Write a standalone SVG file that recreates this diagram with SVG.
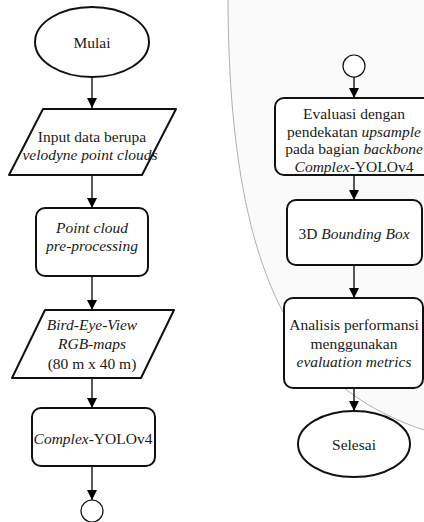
<svg xmlns="http://www.w3.org/2000/svg" width="424" height="522" viewBox="0 0 424 522">
<style>
.t{font-size:15.5px;fill:#1a1a1a;text-anchor:middle;dominant-baseline:central}
.i{font-style:italic}
.b{fill:#fff;stroke:#111;stroke-width:2;stroke-linejoin:round}
.c{fill:#fff;stroke:#111;stroke-width:1.2}
.e{stroke:#000;stroke-width:1.3;fill:none;marker-end:url(#ah)}
</style>
<defs>
<marker id="ah" viewBox="0 0 10 10" refX="10" refY="5" markerWidth="10" markerHeight="10" markerUnits="userSpaceOnUse" orient="auto">
<path d="M0,0 L10,5 L0,10 Z" fill="#000"/>
</marker>
</defs>
<rect width="424" height="522" fill="#fff"/>
<path d="M228,0 C229,300 310,392 424,430 L424,0 Z" fill="#fafafa" stroke="none"/>
<path d="M228,0 C229,300 310,392 424,430" fill="none" stroke="#9a9a9a" stroke-width="0.8"/>

<g id="edges">
<line class="e" x1="92" y1="77" x2="92" y2="108"/>
<line class="e" x1="92" y1="175" x2="92" y2="208"/>
<line class="e" x1="92" y1="276" x2="92" y2="310"/>
<line class="e" x1="92" y1="378" x2="92" y2="408"/>
<line class="e" x1="92" y1="466" x2="92" y2="500"/>
<line class="e" x1="354" y1="77" x2="354" y2="98"/>
<line class="e" x1="354" y1="175" x2="354" y2="200"/>
<line class="e" x1="354" y1="265" x2="354" y2="298"/>
<line class="e" x1="354" y1="388" x2="354" y2="411"/>
</g>

<g font-family="Liberation Serif, Times New Roman, serif">
<g id="mulai">
<ellipse class="b" cx="92" cy="42" rx="57" ry="35"/>
<text class="t" x="92" y="42">Mulai</text>
</g>
<g id="input">
<polygon class="b" points="43,109 176,109 142,175 9,175"/>
<text class="t" x="92" y="136">Input data berupa</text>
<text class="t i" x="90" y="154">velodyne point clouds</text>
</g>
<g id="preprocess">
<rect class="b" x="36" y="208" width="112" height="68" rx="9"/>
<text class="t i" x="92" y="227">Point cloud</text>
<text class="t i" x="92" y="245">pre-processing</text>
</g>
<g id="bev">
<polygon class="b" points="45,310 174,310 141,378 12,378"/>
<text class="t i" x="92" y="324">Bird-Eye-View</text>
<text class="t i" x="92" y="343">RGB-maps</text>
<text class="t" x="92" y="363">(80 m x 40 m)</text>
</g>
<g id="yolo">
<rect class="b" x="32" y="408" width="123" height="58" rx="9"/>
<text class="t" x="93" y="438"><tspan class="i">Complex</tspan>-YOLOv4</text>
</g>
<g id="conn1">
<circle class="c" cx="92" cy="511" r="11"/>
</g>

<g id="conn2">
<circle class="c" cx="354" cy="66" r="11"/>
</g>
<g id="evaluasi">
<rect class="b" x="275" y="98" width="160" height="77" rx="9"/>
<text class="t" x="354" y="113">Evaluasi dengan</text>
<text class="t" x="354" y="131">pendekatan <tspan class="i">upsample</tspan></text>
<text class="t" x="354" y="148">pada bagian <tspan class="i">backbone</tspan></text>
<text class="t" x="354" y="166"><tspan class="i">Complex</tspan>-YOLOv4</text>
</g>
<g id="bbox">
<rect class="b" x="287" y="200" width="135" height="65" rx="9"/>
<text class="t" x="354" y="233">3D <tspan class="i">Bounding Box</tspan></text>
</g>
<g id="analisis">
<rect class="b" x="284" y="298" width="139" height="90" rx="9"/>
<text class="t" x="354" y="324">Analisis performansi</text>
<text class="t" x="354" y="343">menggunakan</text>
<text class="t i" x="354" y="361">evaluation metrics</text>
</g>
<g id="selesai">
<ellipse class="b" cx="354" cy="444" rx="56" ry="33"/>
<text class="t" x="354" y="444">Selesai</text>
</g>
</g>
</svg>
